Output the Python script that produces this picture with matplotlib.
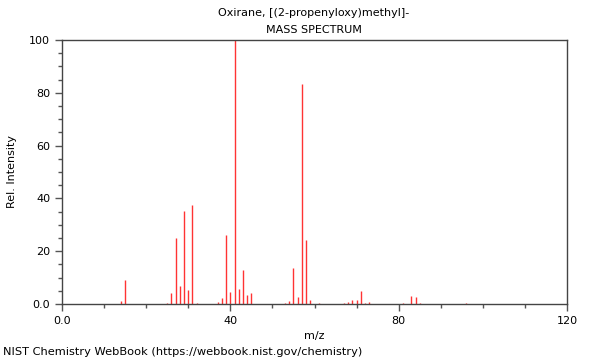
import matplotlib
matplotlib.use("Agg")
import matplotlib.pyplot as plt
from matplotlib.ticker import MultipleLocator

mz = [14, 15, 25, 26, 27, 28, 29, 30, 31, 32, 37, 38, 39, 40, 41, 42, 43, 44, 45,
      53, 54, 55, 56, 57, 58, 59, 61, 67, 68, 69, 70, 71, 72, 73, 81, 83, 84, 85, 96]
intensity = [1.0, 9.2, 0.3, 4.3, 25.0, 6.7, 35.2, 5.2, 37.6, 0.5, 0.9, 2.1, 26.1, 4.7,
             100.0, 5.8, 12.8, 3.5, 4.3,
             0.5, 1.1, 13.5, 2.7, 83.3, 24.4, 1.6, 0.2, 0.4, 0.9, 1.4, 1.4, 5.0, 0.4, 0.9,
             0.4, 3.2, 2.5, 0.3, 0.2]

title1 = "Oxirane, [(2-propenyloxy)methyl]-"
title2 = "MASS SPECTRUM"
footer = "NIST Chemistry WebBook (https://webbook.nist.gov/chemistry)"

fig = plt.figure(figsize=(6, 3.6), dpi=100)
ax = fig.add_axes([62/600, 56/360, 505/600, 264/360])
ax.vlines(mz, 0, intensity, colors="#ff3333", linewidth=1.0)
ax.set_xlim(0, 120)
ax.set_ylim(0, 100)
ax.xaxis.set_minor_locator(MultipleLocator(10))
ax.yaxis.set_minor_locator(MultipleLocator(5))
ax.set_xticks([0, 40, 80, 120])
ax.set_xticklabels(["0.0", "40", "80", "120"])
ax.set_yticks([0, 20, 40, 60, 80, 100])
ax.set_yticklabels(["0.0", "20", "40", "60", "80", "100"])
ax.tick_params(which="major", length=5, width=1, color="#555555", labelsize=8)
ax.tick_params(which="minor", length=3, width=1, color="#555555")
for s in ax.spines.values():
    s.set_color("#444444")
    s.set_linewidth(1.0)
ax.set_xlabel("m/z", fontsize=8)
ax.set_ylabel("Rel. Intensity", fontsize=8, labelpad=9)
fig.text(314/600, 1 - 13/360, title1, ha="center", va="center", fontsize=8)
fig.text(314/600, 1 - 30/360, title2, ha="center", va="center", fontsize=8)
fig.text(3/600, 1 - 352/360, footer, ha="left", va="center", fontsize=8.2)
fig.savefig("out.png", dpi=100)
